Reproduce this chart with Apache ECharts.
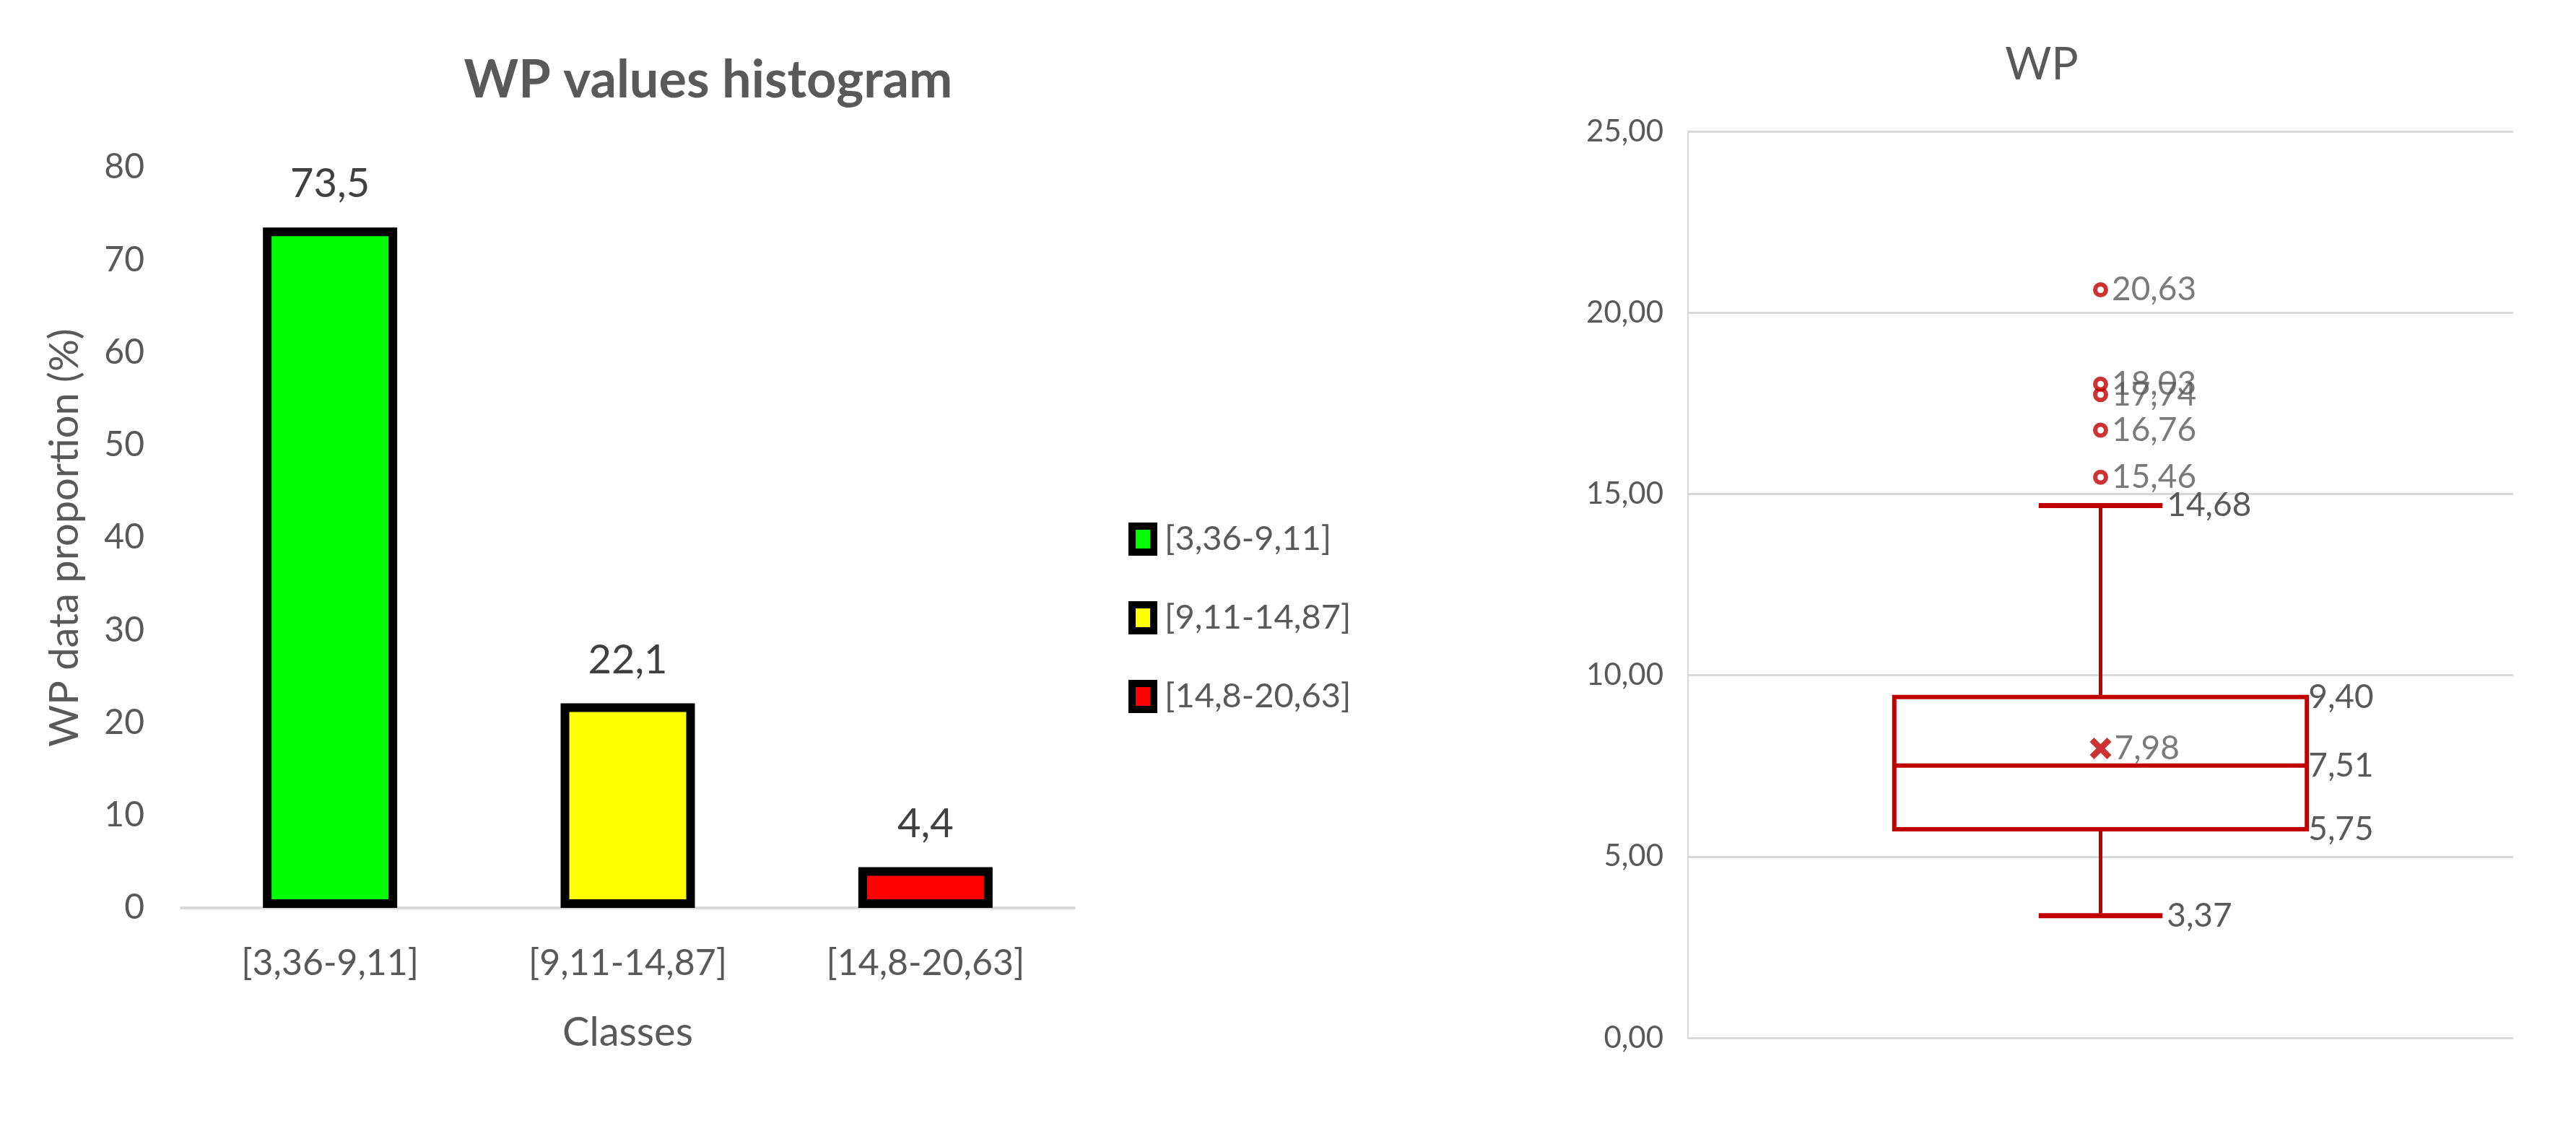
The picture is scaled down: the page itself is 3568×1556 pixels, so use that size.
<!DOCTYPE html>
<html>
<head>
<meta charset="utf-8">
<script src="https://cdn.jsdelivr.net/npm/echarts@6/dist/echarts.min.js"></script>
<style>
  html, body { margin: 0; padding: 0; background: #ffffff; }
  #chart { width: 3568px; height: 1556px; }
</style>
</head>
<body>
<div id="chart"></div>
<script>
// ---- Histogram data ----
const categories = ['[3,36-9,11]', '[9,11-14,87]', '[14,8-20,63]'];
const proportions = [73.5, 22.1, 4.4];
const barColors = ['#00FF00', '#FFFF00', '#FF0000'];
const histTitle = 'WP values histogram';
const histYName = 'WP data proportion (%)';
const histXName = 'Classes';

// ---- Box plot data ----
const boxTitle = 'WP';
const boxCategory = ['WP'];
const boxStats = [3.37, 5.75, 7.51, 9.40, 14.68]; // min, Q1, median, Q3, upper whisker
const meanValue = 7.98;
const outliers = [15.46, 16.76, 17.74, 18.03, 20.63];

const FONT = 'Lato';
const GRAY = '#595959';
const RED = '#C00000';
const fmt2 = v => v.toFixed(2).replace('.', ',');
const fmt1 = v => String(v).replace('.', ',');

const chart = echarts.init(document.getElementById('chart'), null, { renderer: 'canvas' });

const barSeries = categories.map((c, i) => ({
  type: 'bar',
  name: c,
  xAxisIndex: 0,
  yAxisIndex: 0,
  barWidth: 186,
  barGap: '-100%',
  data: proportions.map((v, j) => (j === i ? v : '-')),
  itemStyle: { color: barColors[i], borderColor: '#000000', borderWidth: 12 },
  label: {
    show: true,
    position: 'top',
    distance: 32,
    fontFamily: FONT,
    fontSize: 56,
    color: '#404040',
    formatter: p => fmt1(p.value)
  }
}));

const option = {
  animation: false,
  backgroundColor: '#ffffff',
  textStyle: { fontFamily: FONT },
  graphic: [
    { type: 'text', x: 981, y: 112, style: { text: histTitle, align: 'center', verticalAlign: 'middle', fontFamily: FONT, fontWeight: 'bold', fontSize: 72, fill: GRAY } },
    { type: 'text', x: 2828, y: 90, style: { text: boxTitle, align: 'center', verticalAlign: 'middle', fontFamily: FONT, fontSize: 62, fill: GRAY } }
  ],
  legend: {
    orient: 'vertical',
    left: 1563,
    top: 723,
    padding: 0,
    itemWidth: 30,
    itemHeight: 36,
    itemGap: 61,
    icon: 'rect',
    itemStyle: { borderColor: '#000000', borderWidth: 10 },
    textStyle: { fontFamily: FONT, fontSize: 47, lineHeight: 48, color: GRAY, padding: [0, 0, 0, 10] },
    data: categories
  },
  grid: [
    { left: 251, right: 3568 - 1488, top: 232, bottom: 1556 - 1258 },
    { left: 2338, right: 3568 - 3481, top: 182, bottom: 1556 - 1438 }
  ],
  xAxis: [
    {
      type: 'category', gridIndex: 0, data: categories,
      axisLine: { lineStyle: { color: '#D9D9D9', width: 4 } },
      axisTick: { show: false },
      axisLabel: { fontFamily: FONT, fontSize: 50, color: GRAY, margin: 52 },
      name: histXName, nameLocation: 'middle', nameGap: 145,
      nameTextStyle: { fontFamily: FONT, fontSize: 56, color: GRAY }
    },
    {
      type: 'category', gridIndex: 1, data: boxCategory,
      axisLine: { show: false }, axisTick: { show: false }, axisLabel: { show: false }
    }
  ],
  yAxis: [
    {
      type: 'value', gridIndex: 0, min: 0, max: 80, interval: 10,
      axisLine: { show: false }, axisTick: { show: false }, splitLine: { show: false },
      axisLabel: { fontFamily: FONT, fontSize: 48, color: GRAY, margin: 51 },
      name: histYName, nameLocation: 'middle', nameRotate: 90, nameGap: 133,
      nameTextStyle: { fontFamily: FONT, fontSize: 56, color: GRAY }
    },
    {
      type: 'value', gridIndex: 1, min: 0, max: 25, interval: 5,
      axisLine: { show: true, lineStyle: { color: '#D9D9D9', width: 2 } },
      axisTick: { show: false },
      splitLine: { lineStyle: { color: '#D9D9D9', width: 3 } },
      axisLabel: { fontFamily: FONT, fontSize: 42, color: GRAY, margin: 34, formatter: v => fmt2(v) }
    }
  ],
  series: [
    ...barSeries,
    {
      type: 'custom',
      name: 'box',
      xAxisIndex: 1,
      yAxisIndex: 1,
      encode: { x: 0, y: [1, 2, 3, 4, 5] },
      data: [[0, ...boxStats]],
      renderItem: function (params, api) {
        const xi = api.value(0);
        const mn = api.value(1), q1 = api.value(2), md = api.value(3), q3 = api.value(4), mx = api.value(5);
        const band = api.size([1, 0])[0];
        const cx = api.coord([xi, 0])[0];
        const Y = v => api.coord([xi, v])[1];
        const bw = band * 0.5, cw = band * 0.15;
        const ls = w => ({ stroke: RED, lineWidth: w, fill: null });
        const txt = (t, x, y) => ({
          type: 'text',
          style: { text: t, x: x, y: y, fill: GRAY, fontFamily: FONT, fontSize: 46, align: 'left', verticalAlign: 'middle' }
        });
        return {
          type: 'group',
          children: [
            { type: 'line', shape: { x1: cx, y1: Y(q3), x2: cx, y2: Y(mx) }, style: ls(5) },
            { type: 'line', shape: { x1: cx, y1: Y(q1), x2: cx, y2: Y(mn) }, style: ls(5) },
            { type: 'line', shape: { x1: cx - cw / 2, y1: Y(mx), x2: cx + cw / 2, y2: Y(mx) }, style: ls(7) },
            { type: 'line', shape: { x1: cx - cw / 2, y1: Y(mn), x2: cx + cw / 2, y2: Y(mn) }, style: ls(7) },
            { type: 'rect', shape: { x: cx - bw / 2, y: Y(q3), width: bw, height: Y(q1) - Y(q3) }, style: { stroke: RED, lineWidth: 6, fill: 'rgba(0,0,0,0)' } },
            { type: 'line', shape: { x1: cx - bw / 2, y1: Y(md), x2: cx + bw / 2, y2: Y(md) }, style: ls(6) },
            txt(fmt2(mx), cx + cw / 2 + 6, Y(mx)),
            txt(fmt2(mn), cx + cw / 2 + 6, Y(mn)),
            txt(fmt2(q3), cx + bw / 2 + 2, Y(q3)),
            txt(fmt2(md), cx + bw / 2 + 2, Y(md)),
            txt(fmt2(q1), cx + bw / 2 + 2, Y(q1))
          ]
        };
      },
      z: 2
    },
    {
      type: 'scatter',
      name: 'mean',
      xAxisIndex: 1, yAxisIndex: 1,
      data: [[0, meanValue]],
      symbol: 'path://M0,2 L2,0 L5,3 L8,0 L10,2 L7,5 L10,8 L8,10 L5,7 L2,10 L0,8 L3,5 Z',
      symbolSize: 30,
      itemStyle: { color: RED },
      label: { show: true, position: 'right', distance: 4, fontFamily: FONT, fontSize: 46, color: GRAY, formatter: p => fmt2(p.value[1]) },
      z: 3
    },
    {
      type: 'scatter',
      name: 'outliers',
      xAxisIndex: 1, yAxisIndex: 1,
      data: outliers.map(v => [0, v]),
      symbol: 'circle',
      symbolSize: 15,
      itemStyle: { color: '#ffffff', borderColor: RED, borderWidth: 6 },
      label: { show: true, position: 'right', distance: 5, fontFamily: FONT, fontSize: 46, color: GRAY, formatter: p => fmt2(p.value[1]) },
      z: 3
    }
  ]
};

chart.setOption(option);
</script>
</body>
</html>
